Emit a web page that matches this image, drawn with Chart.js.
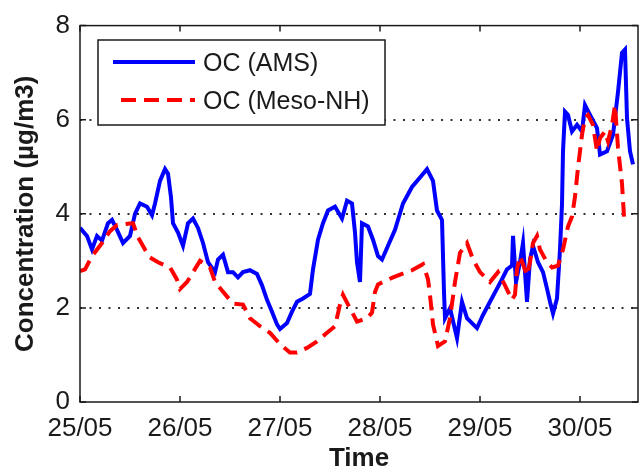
<!DOCTYPE html>
<html>
<head>
<meta charset="utf-8">
<script src="https://cdn.jsdelivr.net/npm/chart.js@4/dist/chart.umd.min.js"></script>
<style>
  html, body { margin: 0; padding: 0; background: #fff; }
  canvas { display: block; }
</style>
</head>
<body>
<canvas id="oc-chart" width="644" height="475"></canvas>
<script>
// days since 25/05 00:00
const dayLabels = ['25/05', '26/05', '27/05', '28/05', '29/05', '30/05'];
const yTicks = [0, 2, 4, 6, 8];

const amsDays = [
    0.00, 0.07, 0.12, 0.17, 0.22, 0.28, 0.32, 0.37, 0.43, 0.50, 0.55, 0.60, 0.67, 0.72, 0.75,
    0.80, 0.85, 0.88, 0.91, 0.93, 0.98, 1.03, 1.08, 1.13, 1.18, 1.23, 1.28, 1.35, 1.38, 1.43,
    1.48, 1.53, 1.58, 1.63, 1.70, 1.77, 1.82, 1.87, 1.92, 1.97, 2.00, 2.07, 2.12, 2.17, 2.23,
    2.30, 2.33, 2.38, 2.43, 2.48, 2.55, 2.62, 2.67, 2.72, 2.75, 2.77, 2.80, 2.82, 2.88, 2.93,
    2.98, 3.02, 3.08, 3.15, 3.23, 3.32, 3.40, 3.47, 3.53, 3.57, 3.62, 3.64, 3.65, 3.70, 3.77,
    3.82, 3.87, 3.97, 4.03, 4.10, 4.17, 4.22, 4.27, 4.32, 4.33, 4.36, 4.40, 4.43, 4.47, 4.50,
    4.53, 4.58, 4.63, 4.67, 4.70, 4.73, 4.77, 4.80, 4.82, 4.83, 4.85, 4.88, 4.92, 4.97, 5.02,
    5.05, 5.10, 5.17, 5.20, 5.27, 5.33, 5.38, 5.42, 5.45, 5.47, 5.50, 5.53
];
const amsValues = [
    3.70, 3.53, 3.24, 3.53, 3.43, 3.80, 3.87, 3.66, 3.38, 3.53, 4.00, 4.22, 4.15, 3.97, 4.22,
    4.70, 4.95, 4.85, 4.35, 3.80, 3.60, 3.32, 3.80, 3.90, 3.70, 3.38, 2.97, 2.76, 3.03, 3.13,
    2.76, 2.76, 2.65, 2.76, 2.80, 2.72, 2.48, 2.17, 1.92, 1.65, 1.55, 1.68, 1.92, 2.13, 2.20,
    2.30, 2.82, 3.45, 3.80, 4.07, 4.15, 3.90, 4.28, 4.22, 3.60, 2.97, 2.55, 3.80, 3.73, 3.45,
    3.10, 3.03, 3.32, 3.66, 4.22, 4.57, 4.77, 4.95, 4.70, 4.07, 3.87, 2.34, 1.78, 1.99, 1.36,
    2.13, 1.78, 1.57, 1.85, 2.13, 2.41, 2.61, 2.82, 2.90, 3.53, 2.55, 2.97, 3.38, 2.13, 3.03,
    3.32, 2.97, 2.76, 2.41, 2.13, 1.88, 2.20, 3.24, 4.20, 5.33, 6.17, 6.10, 5.75, 5.89, 5.75,
    6.31, 6.10, 5.82, 5.26, 5.33, 5.68, 6.59, 7.42, 7.49, 6.03, 5.33, 5.05
];

const mesoDays = [
    0.00, 0.05, 0.12, 0.22, 0.30, 0.37, 0.53, 0.58, 0.65, 0.70, 0.78, 0.90, 0.97, 1.00, 1.07,
    1.20, 1.30, 1.35, 1.42, 1.53, 1.63, 1.70, 1.80, 1.90, 2.00, 2.10, 2.17, 2.27, 2.37, 2.47,
    2.55, 2.60, 2.63, 2.70, 2.77, 2.87, 2.92, 2.95, 2.98, 3.13, 3.32, 3.43, 3.48, 3.50, 3.53,
    3.58, 3.65, 3.70, 3.75, 3.80, 3.87, 3.93, 4.00, 4.10, 4.18, 4.25, 4.32, 4.35, 4.37, 4.40,
    4.47, 4.50, 4.53, 4.57, 4.60, 4.67, 4.72, 4.78, 4.83, 4.88, 4.92, 4.95, 4.98, 5.02, 5.05,
    5.08, 5.13, 5.17, 5.20, 5.25, 5.28, 5.32, 5.35, 5.38, 5.42, 5.44
];
const mesoValues = [
    2.78, 2.82, 3.10, 3.38, 3.63, 3.76, 3.80, 3.50, 3.24, 3.07, 2.97, 2.86, 2.60, 2.40, 2.55,
    3.00, 2.86, 2.55, 2.37, 2.09, 2.07, 1.78, 1.61, 1.47, 1.23, 1.05, 1.05, 1.15, 1.29, 1.47,
    1.61, 2.07, 2.28, 1.99, 1.71, 1.78, 1.90, 2.34, 2.50, 2.65, 2.80, 2.93, 2.61, 2.27, 1.65,
    1.19, 1.29, 1.78, 2.55, 3.17, 3.38, 3.03, 2.76, 2.55, 2.76, 2.48, 2.17, 2.28, 2.82, 3.10,
    2.69, 2.97, 3.38, 3.53, 3.24, 2.97, 2.86, 2.90, 3.24, 3.73, 3.94, 4.36, 4.98, 5.68, 6.03,
    6.10, 5.89, 5.33, 5.61, 5.75, 5.54, 5.89, 6.31, 5.40, 4.64, 3.94
];

const X_MAX = 5.58;
const INK = '#1a1a1a';
const FONT = "'Liberation Sans', Arial, Helvetica, sans-serif";

function toPoints(xs, ys) {
    return xs.map((x, i) => ({ x: x, y: ys[i] }));
}

// box around the axes plus inward tick marks, like the original figure
const frameBox = {
    id: 'frameBox',
    afterDatasetsDraw(chart) {
        const { ctx, chartArea: a, scales } = chart;
        ctx.save();
        ctx.strokeStyle = INK;
        ctx.lineWidth = 1.5;
        ctx.strokeRect(a.left, a.top, a.right - a.left, a.bottom - a.top);
        const len = 6;
        ctx.beginPath();
        dayLabels.forEach((_, i) => {
            const px = scales.x.getPixelForValue(i);
            ctx.moveTo(px, a.bottom); ctx.lineTo(px, a.bottom - len);
            ctx.moveTo(px, a.top); ctx.lineTo(px, a.top + len);
        });
        yTicks.forEach(v => {
            const py = scales.y.getPixelForValue(v);
            ctx.moveTo(a.left, py); ctx.lineTo(a.left + len, py);
            ctx.moveTo(a.right, py); ctx.lineTo(a.right - len, py);
        });
        ctx.stroke();
        ctx.restore();
    }
};

// boxed legend in the upper left of the plot
const boxLegend = {
    id: 'boxLegend',
    afterDraw(chart) {
        const { ctx } = chart;
        const x0 = 98, y0 = 40, w = 287, h = 85;
        ctx.save();
        ctx.fillStyle = '#fff';
        ctx.fillRect(x0, y0, w, h);
        ctx.strokeStyle = INK;
        ctx.lineWidth = 1.5;
        ctx.strokeRect(x0, y0, w, h);
        const rows = [62, 100];
        chart.data.datasets.forEach((ds, i) => {
            const y = rows[i];
            ctx.beginPath();
            ctx.strokeStyle = ds.borderColor;
            ctx.lineWidth = ds.borderWidth;
            ctx.setLineDash(ds.borderDash || []);
            ctx.moveTo(i === 0 ? 113 : 121, y);
            ctx.lineTo(195, y);
            ctx.stroke();
            ctx.setLineDash([]);
            ctx.fillStyle = INK;
            ctx.font = '25px ' + FONT;
            ctx.textBaseline = 'middle';
            ctx.textAlign = 'left';
            ctx.fillText(ds.label, 203, y + 2);
        });
        ctx.restore();
    }
};

Chart.defaults.font.family = FONT;
Chart.defaults.color = INK;

new Chart(document.getElementById('oc-chart').getContext('2d'), {
    type: 'line',
    data: {
        datasets: [{
            label: 'OC (AMS)',
            data: toPoints(amsDays, amsValues),
            borderColor: '#0000ff',
            borderWidth: 4,
            pointRadius: 0,
            tension: 0,
            order: 1
        }, {
            label: 'OC (Meso-NH)',
            data: toPoints(mesoDays, mesoValues),
            borderColor: '#ff0000',
            borderWidth: 4,
            borderDash: [15, 8],
            pointRadius: 0,
            tension: 0,
            order: 0
        }]
    },
    options: {
        responsive: false,
        animation: false,
        layout: { padding: { top: 19, right: 6, left: 0, bottom: 0 } },
        plugins: {
            legend: { display: false },
            tooltip: { enabled: false }
        },
        scales: {
            x: {
                type: 'linear',
                min: 0,
                max: X_MAX,
                afterBuildTicks: (scale) => {
                    scale.ticks = dayLabels.map((_, i) => ({ value: i }));
                },
                afterFit: (scale) => { scale.height = 73; },
                border: { display: false },
                grid: { display: false, drawTicks: false },
                ticks: {
                    font: { size: 26 },
                    color: INK,
                    padding: 11,
                    maxRotation: 0,
                    autoSkip: false,
                    callback: (v) => dayLabels[v]
                },
                title: {
                    display: true,
                    text: 'Time',
                    font: { size: 26, weight: 'bold' },
                    color: INK,
                    padding: { top: 0, bottom: 1 }
                }
            },
            y: {
                min: 0,
                max: 8,
                afterBuildTicks: (scale) => {
                    scale.ticks = yTicks.map(v => ({ value: v }));
                },
                afterFit: (scale) => { scale.width = 80; },
                border: { display: false, dash: [2, 7.5] },
                grid: {
                    drawTicks: false,
                    color: (c) => (c.tick && c.tick.value > 0 && c.tick.value < 8) ? '#333' : 'rgba(0,0,0,0)',
                    lineWidth: 2
                },
                ticks: {
                    font: { size: 26 },
                    color: INK,
                    padding: 10
                },
                title: {
                    display: true,
                    text: 'Concentration (µg/m3)',
                    font: { size: 26, weight: 'bold' },
                    color: INK,
                    padding: { top: 10, bottom: 0 }
                }
            }
        }
    },
    plugins: [frameBox, boxLegend]
});
</script>
</body>
</html>
